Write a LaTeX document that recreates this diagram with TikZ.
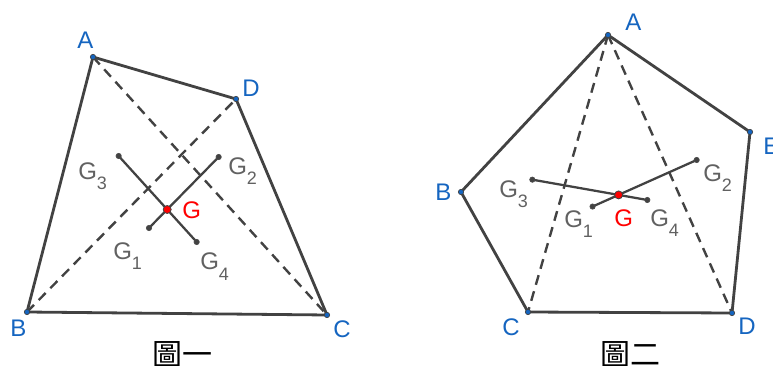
\documentclass[tikz,border=0pt]{standalone}
\usepackage{fontspec}
\setmainfont{Liberation Sans}
\newfontfamily\cjk{Noto Sans CJK TC}
\usepackage{xcolor}
\usepackage{tikz}
\definecolor{geoblue}{RGB}{21,101,192}
\definecolor{geogray}{RGB}{97,97,97}
\definecolor{geoline}{RGB}{66,66,66}
\newcommand{\sbs}[1]{\raisebox{-7.5pt}{\fontsize{13.5}{14}\selectfont #1}}
\tikzset{
  bian/.style={line width=2.1pt, geoline, line join=round},
  duijiao/.style={line width=1.8pt, geoline, dash pattern=on 7.5pt off 5pt},
  zhongxian/.style={line width=1.7pt, geoline},
  dingdian/.style={circle, draw=geoline, fill=geoblue, inner sep=0pt, minimum size=4pt, line width=0.5pt},
  zhongdian/.style={circle, draw=black!70, fill=geoline, inner sep=0pt, minimum size=4pt, line width=0.5pt},
  gdian/.style={circle, draw=geoline, fill=red, inner sep=0pt, minimum size=6pt, line width=0.6pt},
  vlab/.style={anchor=base west, inner sep=0pt, text=geoblue, font=\fontsize{18}{18}\selectfont},
  glab/.style={anchor=base west, inner sep=0pt, text=geogray, font=\fontsize{18}{18}\selectfont},
  redlab/.style={anchor=base west, inner sep=0pt, text=red, font=\fontsize{18}{18}\selectfont},
  tuming/.style={anchor=base west, inner sep=0pt, font=\cjk\fontsize{22.5}{23}\selectfont}
}

\begin{document}
\begin{tikzpicture}[x=0.75pt, y=-0.75pt]
  \useasboundingbox (0,0) rectangle (773,366);
  \coordinate (A1) at (93,57);
  \coordinate (B1) at (27,312);
  \coordinate (C1) at (327,315);
  \coordinate (D1) at (236,99);
  \coordinate (Ga1) at (barycentric cs:A1=1,B1=1,C1=1);
  \coordinate (Ga2) at (barycentric cs:A1=1,C1=1,D1=1);
  \coordinate (Ga3) at (barycentric cs:A1=1,B1=1,D1=1);
  \coordinate (Ga4) at (barycentric cs:B1=1,C1=1,D1=1);
  \coordinate (Ga) at (intersection of Ga1--Ga2 and Ga3--Ga4);
  \draw[duijiao] (A1) -- (C1);
  \draw[duijiao] (B1) -- (D1);
  \draw[bian] (A1) -- (B1) -- (C1) -- (D1) -- cycle;
  \draw[zhongxian] (Ga1) -- (Ga2);
  \draw[zhongxian] (Ga3) -- (Ga4);
  \foreach \p in {A1,B1,C1,D1} \node[dingdian] at (\p) {};
  \foreach \p in {Ga1,Ga2,Ga3,Ga4} \node[zhongdian] at (\p) {};
  \node[gdian] at (Ga) {};
  \node[vlab] (lA1) at (77,49) {A};
  \node[vlab] (lB1) at (10,336) {B};
  \node[vlab] (lC1) at (333,337) {C};
  \node[vlab] (lD1) at (242,97) {D};
  \node[glab] (lGa1) at (113,259) {G\sbs{1}};
  \node[glab] (lGa2) at (228,175) {G\sbs{2}};
  \node[glab] (lGa3) at (78,180) {G\sbs{3}};
  \node[glab] (lGa4) at (200,270) {G\sbs{4}};
  \node[redlab] (lGa) at (182,219) {G};
  \node[tuming] (t1) at (152,365) {圖一};

  \coordinate (A2) at (608,35);
  \coordinate (B2) at (461,192);
  \coordinate (C2) at (528,312);
  \coordinate (D2) at (732,313);
  \coordinate (E2) at (750,132);
  \coordinate (T1) at (barycentric cs:A2=1,B2=1,C2=1);
  \coordinate (T2) at (barycentric cs:A2=1,C2=1,D2=1);
  \coordinate (T3) at (barycentric cs:A2=1,D2=1,E2=1);
  \coordinate (Gb1) at (barycentric cs:T1=1,T2=2);
  \coordinate (Gb2) at (T3);
  \coordinate (Gb3) at (T1);
  \coordinate (Gb4) at (barycentric cs:T2=2,T3=1);
  \coordinate (Gb) at (intersection of Gb1--Gb2 and Gb3--Gb4);
  \draw[duijiao] (A2) -- (C2);
  \draw[duijiao] (A2) -- (D2);
  \draw[bian] (A2) -- (B2) -- (C2) -- (D2) -- (E2) -- cycle;
  \draw[zhongxian] (Gb1) -- (Gb2);
  \draw[zhongxian] (Gb3) -- (Gb4);
  \foreach \p in {A2,B2,C2,D2,E2} \node[dingdian] at (\p) {};
  \foreach \p in {Gb1,Gb2,Gb3,Gb4} \node[zhongdian] at (\p) {};
  \node[gdian] at (Gb) {};
  \node[vlab] (lA2) at (625,31) {A};
  \node[vlab] (lB2) at (435,201) {B};
  \node[vlab] (lC2) at (502,335) {C};
  \node[vlab] (lD2) at (738,334) {D};
  \node[vlab] (lE2) at (763,155) {E};
  \node[glab] (lGb1) at (564,228) {G\sbs{1}};
  \node[glab] (lGb2) at (703,182) {G\sbs{2}};
  \node[glab] (lGb3) at (499,198) {G\sbs{3}};
  \node[glab] (lGb4) at (650,227) {G\sbs{4}};
  \node[redlab] (lGb) at (614,227) {G};
  \node[tuming] (t2) at (600,365) {圖二};
\end{tikzpicture}
\end{document}
